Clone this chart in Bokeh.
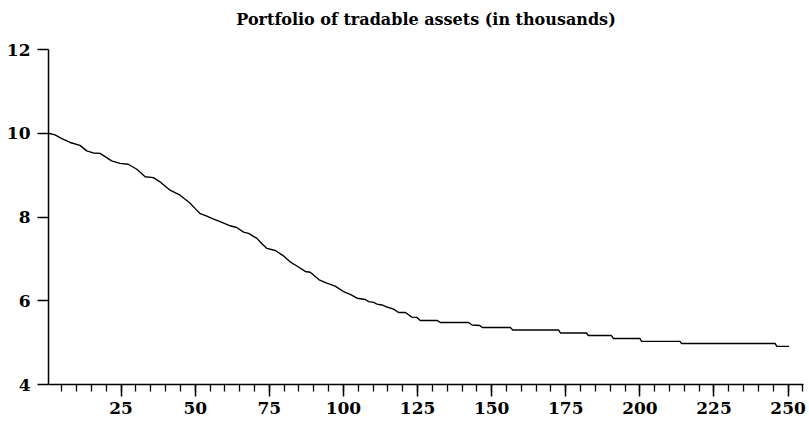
from bokeh.plotting import figure
from bokeh.models import FixedTicker, Range1d, LinearAxis
from bokeh.embed import file_html
from bokeh.resources import INLINE

# Data (day, value in thousands)
days = [0.5, 2.7, 5.0, 7.8, 11.1, 13.4, 15.6, 17.9, 21.8, 24.6, 27.4, 30.3, 33.1, 35.9,
        38.1, 41.5, 44.9, 48.3, 50.0, 51.7, 53.9, 56.2, 58.4, 61.8, 64.0, 66.3, 68.0,
        70.8, 72.5, 74.2, 77.0, 79.8, 82.0, 84.3, 87.1, 88.8, 91.8, 94.4, 97.2, 100.0,
        102.3, 104.6, 107.4, 108.5, 110.2, 111.3, 113.0, 114.7, 116.9, 118.6, 120.9,
        123.1, 124.8, 125.9, 131.6, 132.7, 142.2, 143.4, 146.0, 146.8, 156.3, 157.1,
        172.6, 173.2, 182.0, 182.6, 190.4, 191.0, 200.0, 200.6, 213.5, 214.1, 245.6,
        246.2, 250.3]
values = [10.00, 9.96, 9.87, 9.78, 9.71, 9.58, 9.53, 9.52, 9.34, 9.28, 9.26, 9.14, 8.96, 8.94,
          8.84, 8.64, 8.52, 8.33, 8.20, 8.08, 8.02, 7.95, 7.89, 7.79, 7.75, 7.64, 7.61,
          7.49, 7.36, 7.25, 7.20, 7.07, 6.93, 6.83, 6.70, 6.68, 6.50, 6.42, 6.35, 6.22,
          6.15, 6.06, 6.03, 5.98, 5.96, 5.92, 5.90, 5.85, 5.80, 5.72, 5.72,
          5.61, 5.60, 5.53, 5.53, 5.48, 5.48, 5.42, 5.41, 5.36, 5.36, 5.30,
          5.30, 5.23, 5.23, 5.17, 5.17, 5.10, 5.10, 5.03, 5.03, 4.98, 4.98,
          4.91, 4.91]

x_major_ticks = [25, 50, 75, 100, 125, 150, 175, 200, 225, 250]
x_minor_ticks = list(range(5, 260, 5))
y_ticks = [4, 6, 8, 10, 12]
title_text = "Portfolio of tradable assets (in thousands)"

FONT = "DejaVu Serif"

p = figure(width=809, height=428, output_backend="svg", toolbar_location=None,
           x_range=Range1d(0.5, 255.2), y_range=Range1d(4, 12),
           min_border_left=48, min_border_right=6, min_border_top=49, min_border_bottom=44)

xa = p.below[0]
ya = p.left[0]

# Title drawn as the label of a bare axis above the frame
title_axis = LinearAxis(ticker=FixedTicker(ticks=[], minor_ticks=[]), axis_label=title_text)
title_axis.axis_line_color = None
title_axis.major_tick_line_color = None
title_axis.minor_tick_line_color = None
title_axis.major_tick_out = 0
title_axis.major_tick_in = 0
title_axis.minor_tick_out = 0
title_axis.minor_tick_in = 0
title_axis.major_label_standoff = 0
title_axis.major_label_text_font_size = "0px"
title_axis.axis_label_text_font = FONT
title_axis.axis_label_text_font_style = "bold"
title_axis.axis_label_text_font_size = "16px"
title_axis.axis_label_text_color = "black"
title_axis.axis_label_standoff = 21
p.add_layout(title_axis, "above")

p.line(days, values, line_color="black", line_width=1.4)

p.grid.visible = False
p.outline_line_color = None
p.background_fill_color = "white"
p.border_fill_color = "white"

xa.ticker = FixedTicker(ticks=x_major_ticks, minor_ticks=x_minor_ticks)
ya.ticker = FixedTicker(ticks=y_ticks, minor_ticks=[])

for ax in (xa, ya):
    ax.axis_line_color = "black"
    ax.axis_line_width = 1.5
    ax.major_tick_line_color = "black"
    ax.major_tick_line_width = 1.5
    ax.minor_tick_line_color = "black"
    ax.minor_tick_line_width = 1.3
    ax.major_tick_in = 0
    ax.minor_tick_in = 0
    ax.major_label_text_font = FONT
    ax.major_label_text_font_style = "bold"
    ax.major_label_text_font_size = "17px"
    ax.major_label_text_color = "black"

xa.major_tick_out = 12
xa.minor_tick_out = 7
xa.major_label_standoff = 5
ya.major_tick_out = 11
ya.minor_tick_out = 0
ya.major_label_standoff = 7

open("out.html", "w").write(file_html(p, INLINE))
